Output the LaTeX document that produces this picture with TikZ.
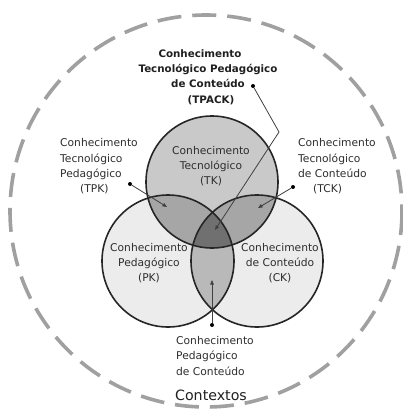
\documentclass[tikz,border=0pt]{standalone}
\usepackage{fontspec}
\setmainfont{DejaVu Sans}
\usetikzlibrary{arrows.meta}
\definecolor{pkfill}{HTML}{ECECEC}
\definecolor{tkfill}{HTML}{C9C9C9}
\definecolor{pairfill}{HTML}{A6A6A6}
\definecolor{pcfill}{HTML}{B9B9B9}
\definecolor{centfill}{HTML}{707070}
\definecolor{txt}{HTML}{2E2E2E}
\definecolor{dashgray}{HTML}{A0A0A0}
\begin{document}
\begin{tikzpicture}[x=1pt,y=-1pt,
  lbl/.style={inner sep=0pt, text=txt, font=\fontsize{10.7}{15.3}\selectfont},
  blbl/.style={inner sep=0pt, text=black!88, font=\fontsize{10.3}{15.3}\selectfont\bfseries, align=center},
  ring/.style={draw=black!85, line width=1.6pt},
  conn/.style={draw=black!75, line width=0.8pt},
  tip/.style={-{Triangle[length=4.5pt,width=3.6pt]}},
  dot/.style={circle, fill=black, inner sep=0pt, minimum size=4pt}]
\useasboundingbox (0,0) rectangle (403,412);
\fill[white] (0,0) rectangle (403,412);
% outer context circle
\draw[dashgray, line width=3.6pt, dash pattern=on 24pt off 11pt] (206,211) circle (196);
% circles
\def\rr{66}
\coordinate (cT) at (212,182);
\coordinate (cP) at (168,261);
\coordinate (cC) at (257,261);
\fill[pkfill] (cP) circle (\rr);
\fill[pkfill] (cC) circle (\rr);
\fill[tkfill] (cT) circle (\rr);
\begin{scope}\clip (cT) circle (\rr); \fill[pairfill] (cP) circle (\rr); \fill[pairfill] (cC) circle (\rr); \end{scope}
\begin{scope}\clip (cP) circle (\rr); \fill[pcfill] (cC) circle (\rr); \end{scope}
\begin{scope}\clip (cT) circle (\rr); \clip (cP) circle (\rr); \fill[centfill] (cC) circle (\rr); \end{scope}
\draw[ring] (cT) circle (\rr);
\draw[ring] (cP) circle (\rr);
\draw[ring] (cC) circle (\rr);
% labels inside circles
\node[lbl, align=center] (tk) at (211,166) {Conhecimento\\Tecnológico\\(TK)};
\node[lbl, align=center] (pk) at (149,263) {Conhecimento\\Pedagógico\\(PK)};
\node[lbl, align=center] (ck) at (280,263) {Conhecimento\\de Conteúdo\\(CK)};
% outer labels
\node[blbl] (tpack) at (208,77) {Conhecimento\hspace*{16pt}\\Tecnológico Pedagógico\\de Conteúdo\hspace*{10pt}\\\hspace*{6pt}(TPACK)};
\node[lbl, align=left, anchor=west] (tpk) at (60,166.5) {Conhecimento\\Tecnológico\\Pedagógico\\\hspace*{20pt}(TPK)};
\node[lbl, align=left, anchor=west] (tck) at (298,166.5) {Conhecimento\\Tecnológico\\de Conteúdo\\\hspace*{15pt}(TCK)};
\node[lbl, align=left, anchor=west] (pck) at (176,356) {Conhecimento\\Pedagógico\\de Conteúdo};
\node[inner sep=0pt, text=black!88, font=\fontsize{14.2}{16}\selectfont] (ctx) at (211,395) {Contextos};
% connectors
\node[dot] (d1) at (253,86) {};
\coordinate (b1) at (279,132);
\coordinate (t1) at (215,230);
\draw[conn, tip] (d1) -- (b1) -- (t1);
\node[dot] (d2) at (130,184) {};
\coordinate (t2) at (167,207);
\draw[conn, tip] (d2) -- (t2);
\node[dot] (d3) at (293,187) {};
\coordinate (t3) at (258,208);
\draw[conn, tip] (d3) -- (t3);
\node[dot] (d4) at (212,325) {};
\coordinate (t4) at (212,280);
\draw[conn, tip] (d4) -- (t4);
\end{tikzpicture}
\end{document}
